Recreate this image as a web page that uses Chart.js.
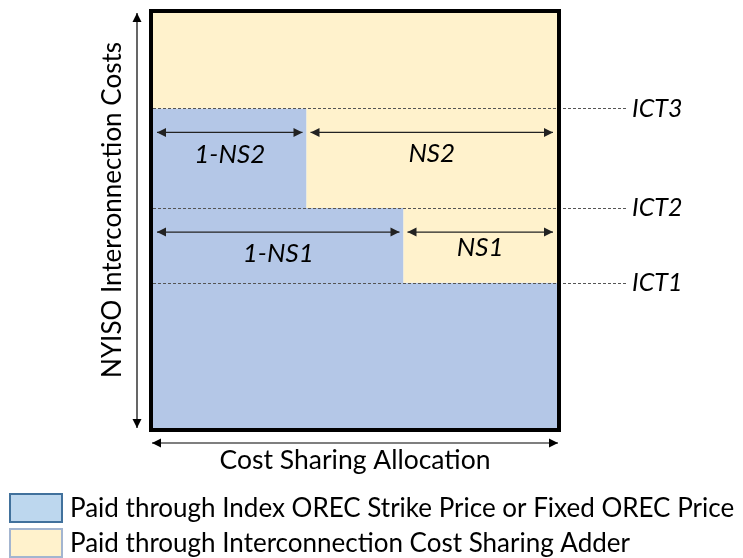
<!DOCTYPE html>
<html>
<head>
<meta charset="utf-8">
<script src="https://cdn.jsdelivr.net/npm/chart.js@4/dist/chart.umd.min.js"></script>
<style>
  html, body { margin: 0; padding: 0; background: #fff; }
  #wrap { width: 743px; height: 558px; }
</style>
</head>
<body>
<div id="wrap"><canvas id="chart"></canvas></div>
<script>
// cost thresholds, share of the full allocation (0..100 / 0..1)
const levelLabels = ['ICT1', 'ICT2', 'ICT3'];
const levelValues = [35, 53, 77];
const shareLabels = ['NS1', 'NS2'];
const shareValues = [0.38, 0.62];
const legendLabels = [
  'Paid through Index OREC Strike Price or Fixed OREC Price',
  'Paid through Interconnection Cost Sharing Adder'
];
const xTitle = 'Cost Sharing Allocation';
const yTitle = 'NYISO Interconnection Costs';

const BLUE = '#B4C7E7';
const CREAM = '#FFF2CC';
const FONT = 'Lato, "Open Sans", sans-serif';

// top edge of the blue part, as a step line
const blueTop = [
  { x: 0, y: levelValues[2] },
  { x: 1 - shareValues[1], y: levelValues[1] },
  { x: 1 - shareValues[0], y: levelValues[0] },
  { x: 1, y: levelValues[0] }
];

function arrow(ctx, x1, y1, x2, y2, head) {
  const ang = Math.atan2(y2 - y1, x2 - x1);
  ctx.beginPath();
  ctx.moveTo(x1, y1);
  ctx.lineTo(x2, y2);
  ctx.stroke();
  [[x1, y1, ang + Math.PI], [x2, y2, ang]].forEach(([x, y, a]) => {
    ctx.beginPath();
    ctx.moveTo(x, y);
    ctx.lineTo(x - head * Math.cos(a) + head * 0.5 * Math.sin(a), y - head * Math.sin(a) - head * 0.5 * Math.cos(a));
    ctx.lineTo(x - head * Math.cos(a) - head * 0.5 * Math.sin(a), y - head * Math.sin(a) + head * 0.5 * Math.cos(a));
    ctx.closePath();
    ctx.fill();
  });
}

const diagram = {
  id: 'diagram',
  afterDatasetsDraw(chart) {
    const { ctx, chartArea: a, scales: { x, y } } = chart;
    ctx.save();

    // dashed threshold lines + labels
    ctx.setLineDash([3, 2]);
    ctx.strokeStyle = '#555';
    ctx.lineWidth = 1;
    levelValues.forEach((v) => {
      const py = Math.round(y.getPixelForValue(v)) + 0.5;
      ctx.beginPath();
      ctx.moveTo(a.left, py);
      ctx.lineTo(a.right + 70, py);
      ctx.stroke();
    });
    ctx.setLineDash([]);
    ctx.fillStyle = '#000';
    ctx.font = 'italic 25px ' + FONT;
    ctx.textBaseline = 'middle';
    ctx.textAlign = 'left';
    levelValues.forEach((v, i) => {
      ctx.fillText(levelLabels[i], a.right + 75, y.getPixelForValue(v));
    });

    // black frame
    ctx.strokeStyle = '#000';
    ctx.lineWidth = 4;
    ctx.strokeRect(a.left - 2, a.top - 2, a.right - a.left + 4, a.bottom - a.top + 4);

    // share arrows inside the bands
    ctx.lineWidth = 1.3;
    ctx.font = 'italic 26px ' + FONT;
    ctx.textAlign = 'center';
    ctx.textBaseline = 'middle';
    [[1, 2], [0, 1]].forEach(([s, lv]) => {
      const split = x.getPixelForValue(1 - shareValues[s]);
      const ay = y.getPixelForValue(levelValues[lv]) + 24;
      ctx.strokeStyle = '#222';
      ctx.fillStyle = '#222';
      arrow(ctx, a.left + 4, ay, split - 4, ay, 9);
      arrow(ctx, split + 4, ay, a.right - 4, ay, 9);
      ctx.fillStyle = '#000';
      ctx.fillText('1-' + shareLabels[s], (a.left + split) / 2, ay + 22);
      ctx.fillText(shareLabels[s], (split + a.right) / 2, ay + (s === 1 ? 21 : 16));
    });

    // axis arrows and titles
    ctx.lineWidth = 1.2;
    ctx.strokeStyle = '#000';
    ctx.fillStyle = '#000';
    arrow(ctx, a.left - 16, a.top, a.left - 16, a.bottom, 9);
    arrow(ctx, a.left - 1, a.bottom + 15, a.right + 1, a.bottom + 15, 9);
    ctx.font = '26.5px ' + FONT;
    ctx.textAlign = 'center';
    ctx.textBaseline = 'alphabetic';
    ctx.fillText(xTitle, (a.left + a.right) / 2, a.bottom + 41);
    ctx.save();
    ctx.translate(a.left - 32, 210);
    ctx.rotate(-Math.PI / 2);
    ctx.font = '26px ' + FONT;
    ctx.fillText(yTitle, 0, 0);
    ctx.restore();

    // legend
    const fills = ['#BDD7EE', CREAM];
    const strokes = ['#41719C', '#A3B5D0'];
    ctx.textAlign = 'left';
    ctx.font = '26px ' + FONT;
    legendLabels.forEach((t, i) => {
      const by = 493 + i * 35;
      ctx.fillStyle = fills[i];
      ctx.fillRect(9, by, 54, 30);
      ctx.strokeStyle = strokes[i];
      ctx.lineWidth = 2;
      ctx.strokeRect(10, by + 1, 52, 28);
      ctx.fillStyle = '#000';
      ctx.fillText(t, 70, by + 24);
    });
    ctx.restore();
  }
};

new Chart(document.getElementById('chart'), {
  type: 'line',
  data: {
    datasets: [
      {
        label: legendLabels[1],
        data: blueTop,
        stepped: 'before',
        fill: 'end',
        backgroundColor: CREAM,
        borderWidth: 0,
        pointRadius: 0
      },
      {
        label: legendLabels[0],
        data: blueTop,
        stepped: 'before',
        fill: 'origin',
        backgroundColor: BLUE,
        borderWidth: 0,
        pointRadius: 0
      }
    ]
  },
  options: {
    responsive: true,
    maintainAspectRatio: false,
    animation: false,
    layout: { padding: { left: 153, top: 13, right: 186, bottom: 130 } },
    scales: {
      x: { type: 'linear', min: 0, max: 1, display: false },
      y: { min: 0, max: 100, display: false }
    },
    plugins: {
      legend: { display: false },
      tooltip: { enabled: false }
    }
  },
  plugins: [diagram]
});
</script>
</body>
</html>
